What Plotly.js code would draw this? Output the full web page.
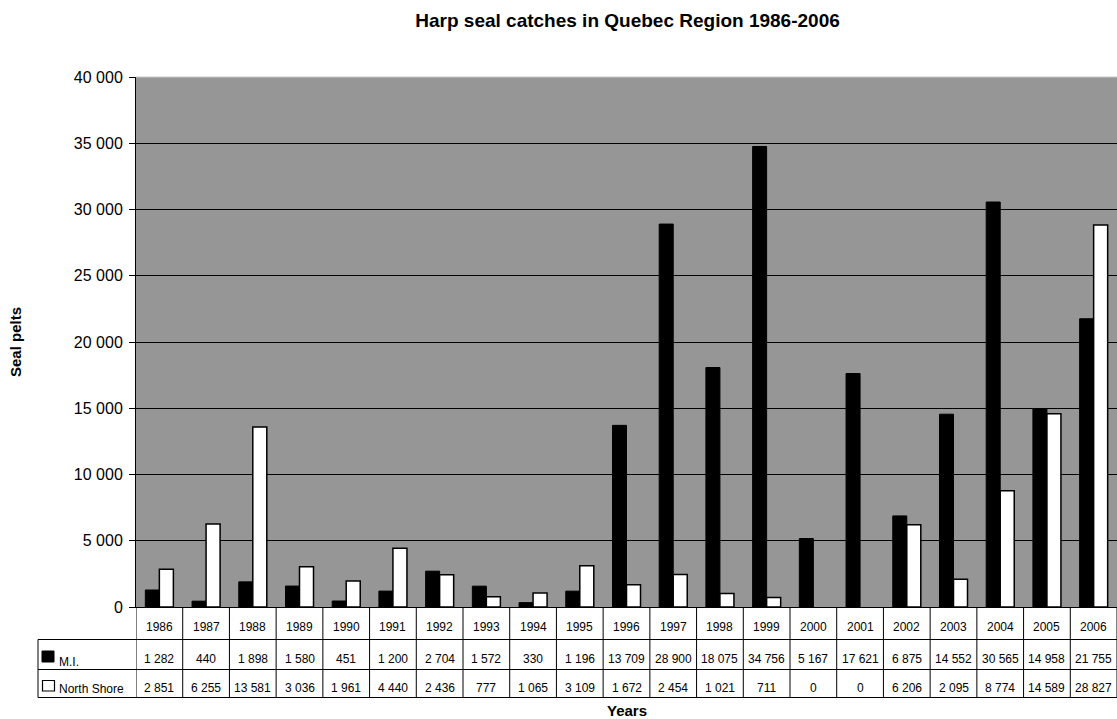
<!DOCTYPE html>
<html>
<head>
<meta charset="utf-8">
<script src="https://cdn.plot.ly/plotly-3.0.1.min.js"></script>
<style>html,body{margin:0;padding:0;background:#fff;}#chart{width:1117px;height:719px;}</style>
</head>
<body>
<div id="chart"></div>
<script>
var years = ["1986","1987","1988","1989","1990","1991","1992","1993","1994","1995","1996","1997","1998","1999","2000","2001","2002","2003","2004","2005","2006"];
var miValues = [1282,440,1898,1580,451,1200,2704,1572,330,1196,13709,28900,18075,34756,5167,17621,6875,14552,30565,14958,21755];
var northShoreValues = [2851,6255,13581,3036,1961,4440,2436,777,1065,3109,1672,2454,1021,711,0,0,6206,2095,8774,14589,28827];
var seriesNames = ["M.I.", "North Shore"];
var yTicks = [0,5000,10000,15000,20000,25000,30000,35000,40000];

var W = 1117, H = 719;
var mL = 136, mR = 0, mT = 77, mB = 112;
var plotW = W - mL - mR, plotH = H - mT - mB;
var bottomPx = H - mB;
function py(p){ return (bottomPx - p) / plotH; }   // pixel y -> paper y
function px(p){ return (p - mL) / plotW; }         // pixel x -> paper x

function fmt(v){ return String(v).replace(/\B(?=(\d{3})+(?!\d))/g, " "); }

var FONT = "Arial, 'Liberation Sans', sans-serif";

var traces = [
  {type:"bar", name:seriesNames[0], x:years, y:miValues,
   marker:{color:"#000000", line:{color:"#000000", width:miValues.map(function(v){return v>0?1:0;})}}, showlegend:false, hoverinfo:"x+y"},
  {type:"bar", name:seriesNames[1], x:years, y:northShoreValues,
   marker:{color:"#ffffff", line:{color:"#000000", width:northShoreValues.map(function(v){return v>0?1.5:0;})}}, showlegend:false, hoverinfo:"x+y"}
];

var shapes = [];
var annotations = [];
var lineStyle = {color:"#000000", width:1};

// table row boundaries (pixels)
var rowTop = bottomPx, row1 = 639.5, row2 = 669.5, rowBot = 697.5, tableLeft = 38;

// vertical column separators
for (var i = 0; i <= years.length; i++) {
  shapes.push({type:"line", xref:"x", yref:"paper", x0:i-0.5, x1:i-0.5, y0:py(rowTop), y1:py(rowBot), line:lineStyle, layer:"above"});
}
// horizontal lines spanning full table
[row1, row2, rowBot].forEach(function(r){
  shapes.push({type:"line", xref:"paper", yref:"paper", x0:px(tableLeft), x1:1, y0:py(r), y1:py(r), line:lineStyle});
});
// left border of labelled rows
shapes.push({type:"line", xref:"paper", yref:"paper", x0:px(tableLeft), x1:px(tableLeft), y0:py(row1), y1:py(rowBot), line:lineStyle});
// top border of plot (light)
shapes.push({type:"line", xref:"paper", yref:"paper", x0:0, x1:1, y0:1, y1:1, line:{color:"#c8c8c8", width:1}});

// legend keys
shapes.push({type:"rect", xref:"paper", yref:"paper", x0:px(42), x1:px(54), y0:py(662), y1:py(651), fillcolor:"#000000", line:{color:"#000000", width:1}});
shapes.push({type:"rect", xref:"paper", yref:"paper", x0:px(42.5), x1:px(54.5), y0:py(691), y1:py(680.5), fillcolor:"#ffffff", line:{color:"#000000", width:1.2}});

var tFont = {family:FONT, size:12, color:"#000000"};
years.forEach(function(yr, i){
  annotations.push({x:i, xref:"x", y:py(626.5), yref:"paper", text:yr, showarrow:false, font:tFont, xanchor:"center", yanchor:"middle"});
  annotations.push({x:i, xref:"x", y:py(658.5), yref:"paper", text:fmt(miValues[i]), showarrow:false, font:tFont, xanchor:"center", yanchor:"middle"});
  annotations.push({x:i, xref:"x", y:py(687.5), yref:"paper", text:fmt(northShoreValues[i]), showarrow:false, font:tFont, xanchor:"center", yanchor:"middle"});
});
annotations.push({x:px(57), xref:"paper", y:py(662), yref:"paper", text:seriesNames[0], showarrow:false, font:tFont, xanchor:"left", yanchor:"middle"});
annotations.push({x:px(57), xref:"paper", y:py(688.5), yref:"paper", text:seriesNames[1], showarrow:false, font:tFont, xanchor:"left", yanchor:"middle"});
// x-axis title
annotations.push({x:0.5, xref:"paper", y:py(710), yref:"paper", text:"<b>Years</b>", showarrow:false, font:{family:FONT, size:15, color:"#000"}, xanchor:"center", yanchor:"middle"});

var layout = {
  width: W, height: H,
  margin: {l:mL, r:mR, t:mT, b:mB, pad:0},
  paper_bgcolor: "#ffffff",
  plot_bgcolor: "#969696",
  separators: ", ",
  title: {text:"<b>Harp seal catches in Quebec Region 1986-2006</b>", font:{family:FONT, size:19, color:"#000"}, x:0.5618, xanchor:"center", y:0.972, yanchor:"middle"},
  barmode: "group",
  bargap: 0.4,
  bargroupgap: 0,
  xaxis: {type:"category", showticklabels:false, ticks:"", showgrid:false, zeroline:false,
          showline:true, linecolor:"#000", linewidth:1, range:[-0.5, years.length-0.5], fixedrange:true},
  yaxis: {range:[0,40000], tickvals:yTicks, tickformat:",d", showgrid:true, gridcolor:"#000000", gridwidth:1,
          zeroline:false, showline:true, linecolor:"#000", linewidth:1, ticks:"outside", ticklen:6, tickcolor:"#000",
          tickfont:{family:FONT, size:16, color:"#000"}, ticklabelstandoff:3,
          title:{text:"<b>Seal pelts</b>", font:{family:FONT, size:15, color:"#000"}, standoff:48}, fixedrange:true},
  shapes: shapes,
  annotations: annotations,
  showlegend: false
};

Plotly.newPlot("chart", traces, layout, {displayModeBar:false, staticPlot:true});
</script>
</body>
</html>
